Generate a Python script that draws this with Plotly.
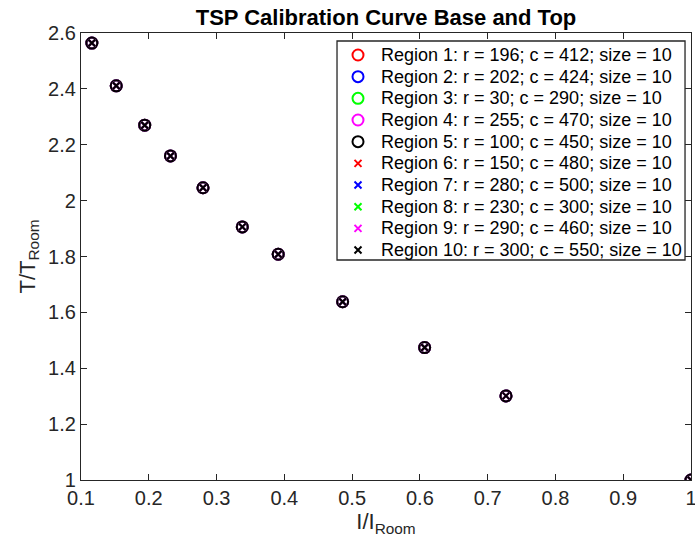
import plotly.graph_objects as go

# intensity ratio vs temperature ratio (same points for all regions)
i_ratio = [0.116, 0.152, 0.194, 0.232, 0.280, 0.338, 0.391, 0.486, 0.607, 0.727, 1.0]
t_ratio = [2.564, 2.411, 2.270, 2.160, 2.046, 1.906, 1.808, 1.638, 1.474, 1.301, 1.0]

region_names = [
    'Region 1: r = 196; c = 412; size = 10',
    'Region 2: r = 202; c = 424; size = 10',
    'Region 3: r = 30; c = 290; size = 10',
    'Region 4: r = 255; c = 470; size = 10',
    'Region 5: r = 100; c = 450; size = 10',
    'Region 6: r = 150; c = 480; size = 10',
    'Region 7: r = 280; c = 500; size = 10',
    'Region 8: r = 230; c = 300; size = 10',
    'Region 9: r = 290; c = 460; size = 10',
    'Region 10: r = 300; c = 550; size = 10',
]
region_colors = ['#ff0000', '#0000ff', '#00ff00', '#ff00ff', '#000000'] * 2
region_symbols = ['circle-open'] * 5 + ['x-thin-open'] * 5

x_ticks = [0.1, 0.2, 0.3, 0.4, 0.5, 0.6, 0.7, 0.8, 0.9, 1.0]
x_ticklabels = ['0.1', '0.2', '0.3', '0.4', '0.5', '0.6', '0.7', '0.8', '0.9', '1']
y_ticks = [1.0, 1.2, 1.4, 1.6, 1.8, 2.0, 2.2, 2.4, 2.6]
y_ticklabels = ['1', '1.2', '1.4', '1.6', '1.8', '2', '2.2', '2.4', '2.6']

axcol = '#262626'
font = 'Liberation Sans, Arial, Helvetica, sans-serif'

def msize(sym):
    return 11 if sym == 'circle-open' else 7

fig = go.Figure()
for name, col, sym in zip(region_names, region_colors, region_symbols):
    fig.add_trace(go.Scatter(x=i_ratio, y=t_ratio, mode='markers', name=name,
                             showlegend=False,
                             marker=dict(symbol=sym, size=msize(sym), color=col,
                                         line=dict(color=col, width=2))))

# matlab style legend: box + markers on a hidden 0..1 overlay axis + text
leg_x0, leg_x1, leg_y0, leg_y1 = 0.4197, 0.9902, 0.4922, 0.9821
row0, row_step = 0.9508, 0.04848
sym_x, txt_x = 0.4541, 0.4885
fig.add_shape(type='rect', xref='paper', yref='paper', x0=leg_x0, x1=leg_x1,
              y0=leg_y0, y1=leg_y1, line=dict(color=axcol, width=1.3),
              fillcolor='white', layer='below')
for i, (name, col, sym) in enumerate(zip(region_names, region_colors, region_symbols)):
    yr = row0 - i * row_step
    fig.add_trace(go.Scatter(x=[sym_x], y=[yr], xaxis='x2', yaxis='y2', mode='markers',
                             showlegend=False, hoverinfo='skip', cliponaxis=False,
                             marker=dict(symbol=sym, size=msize(sym), color=col,
                                         line=dict(color=col, width=2))))
    fig.add_annotation(x=txt_x, y=yr, xref='paper', yref='paper', text=name,
                       showarrow=False, xanchor='left', yanchor='middle',
                       font=dict(size=18, color='black'))

fig.update_layout(
    width=695, height=548,
    margin=dict(l=81, r=4, t=33, b=68),
    plot_bgcolor='white', paper_bgcolor='white',
    font=dict(family=font, size=20, color=axcol),
    title=dict(text='<b>TSP Calibration Curve Base and Top</b>', x=0.5, xref='paper',
               xanchor='center', y=0.968, yanchor='middle',
               font=dict(size=22, color='black')),
    showlegend=False,
    xaxis2=dict(overlaying='x', range=[0, 1], visible=False, fixedrange=True),
    yaxis2=dict(overlaying='y', range=[0, 1], visible=False, fixedrange=True),
)
fig.layout.xaxis.update(range=[0.1, 1.0], tickvals=x_ticks, ticktext=x_ticklabels,
                        ticks='inside', ticklen=6, tickcolor=axcol, showline=True,
                        linecolor=axcol, linewidth=1.3, mirror='ticks', showgrid=False,
                        zeroline=False, automargin=False, tickfont=dict(size=20),
                        ticklabeloverflow='allow',
                        title=dict(text='I/I<sub>Room</sub>', font=dict(size=22), standoff=4))
fig.layout.yaxis.update(range=[1.0, 2.6], tickvals=y_ticks, ticktext=y_ticklabels,
                        ticks='inside', ticklen=6, tickcolor=axcol, showline=True,
                        linecolor=axcol, linewidth=1.3, mirror='ticks', showgrid=False,
                        zeroline=False, automargin=False, tickfont=dict(size=20),
                        ticklabeloverflow='allow',
                        title=dict(text='T/T<sub>Room</sub>', font=dict(size=22), standoff=6))

# drop the default 8px body margin so the figure fills the window exactly
fig.write_html("out.html", config={'displayModeBar': False},
               post_script="document.body.style.margin='0';")
